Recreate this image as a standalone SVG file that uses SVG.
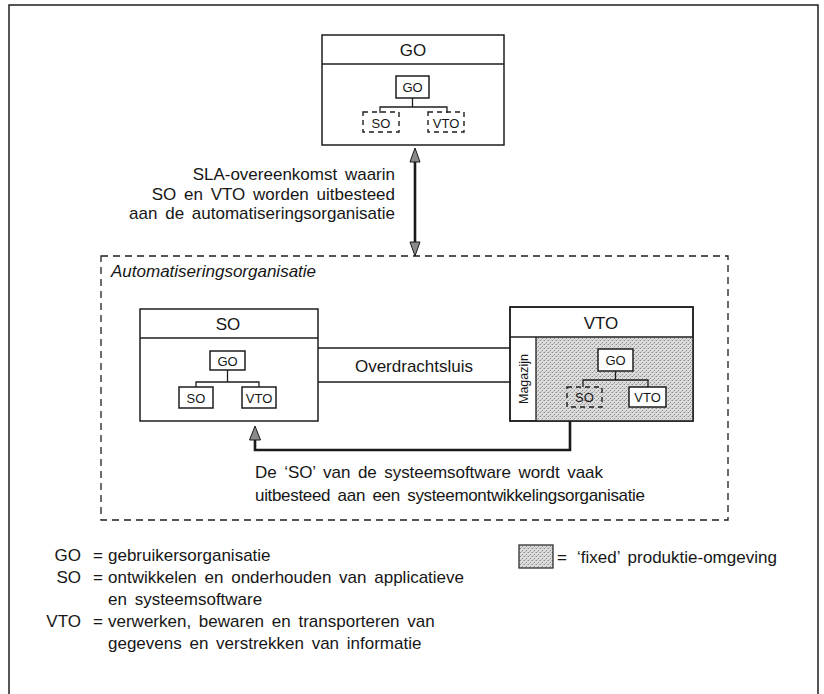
<svg xmlns="http://www.w3.org/2000/svg" width="824" height="694" viewBox="0 0 824 694">
  <defs>
    <style>
      text { font-family: "Liberation Sans", Arial, sans-serif; fill: #161616; }
      .lbl { font-size: 17px; word-spacing: 3px; }
      .ttl { font-size: 17px; text-anchor: middle; }
      .sm { font-size: 13px; text-anchor: middle; }
      .box { fill: #fff; stroke: #1e1e1e; stroke-width: 1.5; }
      .ln { fill: none; stroke: #1e1e1e; stroke-width: 1.3; }
      .dash { fill: none; stroke: #1e1e1e; stroke-width: 1.4; stroke-dasharray: 5 4; }
      .bigdash { fill: none; stroke: #1e1e1e; stroke-width: 1.3; stroke-dasharray: 7 5; }
      .conn { fill: none; stroke: #1a1a1a; stroke-width: 2.6; }
      .head { fill: #8a8a8a; stroke: #1a1a1a; stroke-width: 1; }
      .shade { fill: url(#stipple); }
    </style>
    <!-- fine stipple used for the fixed production environment -->
    <pattern id="stipple" width="4" height="4" patternUnits="userSpaceOnUse">
      <rect width="4" height="4" fill="#dcdcdc"/>
      <rect x="0" y="0" width="1" height="1" fill="#8c8c8c"/>
      <rect x="2" y="2" width="1" height="1" fill="#8c8c8c"/>
      <rect x="3" y="0" width="1" height="1" fill="#b4b4b4"/>
      <rect x="1" y="3" width="1" height="1" fill="#b4b4b4"/>
    </pattern>
  </defs>

  <rect width="824" height="694" fill="#fff"/>
  <!-- outer frame (runs past the bottom edge) -->
  <rect x="9" y="5" width="809" height="720" fill="none" stroke="#1e1e1e" stroke-width="1.5"/>

  <!-- top: user organisation -->
  <g id="go-top">
    <rect class="box" x="322" y="35" width="182" height="110"/>
    <line class="ln" x1="322" y1="64" x2="504" y2="64"/>
    <text class="ttl" x="413" y="56">GO</text>
    <rect class="box" x="396" y="76" width="33" height="22" stroke-width="1.2"/>
    <text class="sm" x="412.5" y="92">GO</text>
    <path class="ln" d="M412.5,98 V107 M380,113 V107 H447 V113"/>
    <rect class="dash" x="363" y="112" width="36" height="20"/>
    <text class="sm" x="381" y="127.5">SO</text>
    <rect class="dash" x="428" y="112" width="36" height="20"/>
    <text class="sm" x="446" y="127.5">VTO</text>
  </g>

  <!-- automation organisation container -->
  <g id="automatisering">
    <rect class="bigdash" x="101" y="256" width="627" height="264"/>
    <text class="lbl" x="111" y="277" font-style="italic">Automatiseringsorganisatie</text>
  </g>

  <!-- SO box -->
  <g id="so">
    <rect class="box" x="140" y="309" width="178" height="112"/>
    <line class="ln" x1="140" y1="338" x2="318" y2="338"/>
    <text class="ttl" x="228" y="330">SO</text>
    <rect class="box" x="210" y="351" width="35" height="19" stroke-width="1.2"/>
    <text class="sm" x="227.5" y="365.5">GO</text>
    <path class="ln" d="M227.5,370 V382 M196,387 V382 H259 V387"/>
    <rect class="box" x="179" y="387" width="34" height="21" stroke-width="1.2"/>
    <text class="sm" x="196" y="402.5">SO</text>
    <rect class="box" x="242" y="387" width="34" height="21" stroke-width="1.2"/>
    <text class="sm" x="259" y="402.5">VTO</text>
  </g>

  <!-- transfer lock between SO and VTO -->
  <g id="overdrachtsluis">
    <path class="ln" d="M318,348 H510 M318,382 H510"/>
    <text class="ttl" x="414" y="372">Overdrachtsluis</text>
  </g>

  <!-- VTO box with warehouse and fixed production environment -->
  <g id="vto">
    <rect class="box" x="510" y="307" width="183" height="114"/>
    <rect class="shade" x="536" y="337" width="157" height="84"/>
    <path class="ln" d="M510,337 H693 M536,337 V421"/>
    <rect fill="none" stroke="#1e1e1e" stroke-width="1.5" x="510" y="307" width="183" height="114"/>
    <text class="ttl" x="601" y="329">VTO</text>
    <text font-size="12.5" text-anchor="middle" transform="translate(527.5,379) rotate(-90)">Magazijn</text>
    <rect class="box" x="598" y="349" width="35" height="22" stroke-width="1.2"/>
    <text class="sm" x="615.5" y="364.5">GO</text>
    <path class="ln" d="M615.5,371 V380 M583,387 V380 H648 V387"/>
    <rect class="dash" x="567" y="387" width="35" height="20"/>
    <text class="sm" x="584.5" y="402">SO</text>
    <rect class="box" x="629" y="387" width="37" height="20" stroke-width="1.2"/>
    <text class="sm" x="647.5" y="402">VTO</text>
  </g>

  <!-- connectors -->
  <g id="connectors">
    <line class="conn" x1="415" y1="160" x2="415" y2="244"/>
    <polygon class="head" points="415,148 420,162 410,162"/>
    <polygon class="head" points="415,256 420,242 410,242"/>
    <path class="conn" d="M570,421 V450 H255 V438"/>
    <polygon class="head" points="255,426 260.5,440 249.5,440"/>
  </g>

  <!-- connector labels -->
  <g id="sla-label" text-anchor="end">
    <text class="lbl" x="395" y="180">SLA-overeenkomst waarin</text>
    <text class="lbl" x="395" y="199.5">SO en VTO worden uitbesteed</text>
    <text class="lbl" x="395" y="219">aan de automatiseringsorganisatie</text>
  </g>
  <g id="so-label">
    <text class="lbl" x="255" y="478" textLength="348">De ‘SO’ van de systeemsoftware wordt vaak</text>
    <text class="lbl" x="255" y="501" textLength="390">uitbesteed aan een systeemontwikkelingsorganisatie</text>
  </g>

  <!-- legend -->
  <g id="legend">
    <text class="lbl" x="81" y="561" text-anchor="end">GO</text>
    <text class="lbl" x="98" y="561" text-anchor="middle">=</text>
    <text class="lbl" x="108" y="561">gebruikersorganisatie</text>
    <text class="lbl" x="81" y="583" text-anchor="end">SO</text>
    <text class="lbl" x="98" y="583" text-anchor="middle">=</text>
    <text class="lbl" x="108" y="583">ontwikkelen en onderhouden van applicatieve</text>
    <text class="lbl" x="108" y="605">en systeemsoftware</text>
    <text class="lbl" x="81" y="627" text-anchor="end">VTO</text>
    <text class="lbl" x="98" y="627" text-anchor="middle">=</text>
    <text class="lbl" x="108" y="627">verwerken, bewaren en transporteren van</text>
    <text class="lbl" x="108" y="649">gegevens en verstrekken van informatie</text>
  </g>
  <g id="legend-fixed">
    <rect class="shade" x="519" y="545" width="34" height="23" stroke="#1e1e1e" stroke-width="1.2"/>
    <text class="lbl" x="562" y="563" text-anchor="middle">=</text>
    <text class="lbl" x="577" y="563">‘fixed’ produktie-omgeving</text>
  </g>
</svg>
